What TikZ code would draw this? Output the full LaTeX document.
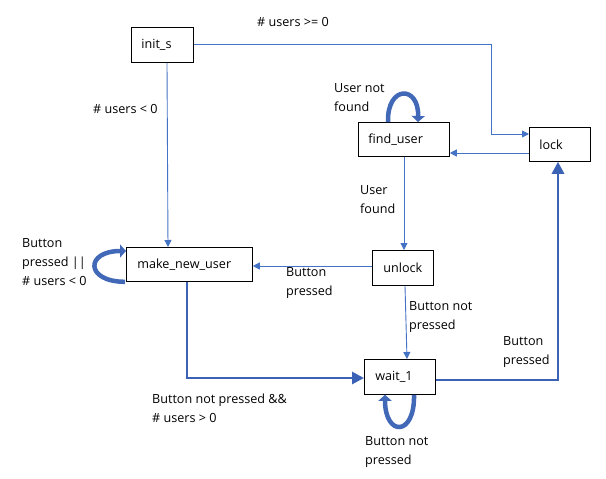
\documentclass[tikz,border=0pt]{standalone}
\usepackage{fontspec}
\setmainfont{Open Sans}
\usetikzlibrary{arrows.meta,calc}
\definecolor{thinblue}{HTML}{4472C4}
\definecolor{thickblue}{HTML}{3B62B4}
\definecolor{loopblue}{HTML}{4169B8}
\begin{document}
\begin{tikzpicture}[x=1pt,y=-1pt,
  every node/.style={font=\fontsize{12.6}{19}\selectfont, inner sep=0pt},
  box/.style={draw=black, line width=0.8pt, anchor=north west, align=left, inner xsep=10pt, inner ysep=0pt},
  lbl/.style={anchor=west, align=left, text=black},
  thinarrow/.style={draw=thinblue, line width=0.9pt, -{Triangle[length=7pt,width=7pt]}},
  thickarrow/.style={draw=thickblue, line width=2.8pt, -{Triangle[length=12pt,width=12pt]}},
  looparrow/.style={draw=loopblue, line width=4.5pt, -{Triangle[length=6pt,width=13pt]}}
]
\useasboundingbox (0,0) rectangle (606,479);
\fill[white] (0,0) rectangle (606,479);

% states
\node[box, text width=42pt, minimum height=35pt] (init) at (131,27) {init\_s};
\node[box, text width=71pt, minimum height=34pt] (find) at (358,122) {find\_user};
\node[box, text width=41pt, minimum height=34pt] (lock) at (529,127) {lock};
\node[box, text width=104pt, minimum height=34pt, inner xsep=11pt] (make) at (126,247) {make\_new\_user};
\node[box, text width=39pt, minimum height=35pt, inner xsep=11pt] (unlock) at (372,250) {unlock};
\node[box, text width=49pt, minimum height=35pt, inner xsep=11pt] (wait) at (364,359) {wait\_1};

% thin connectors
\coordinate (c1) at (491,44);
\coordinate (c2) at (491,134);
\draw[thinarrow] (init.east |- c1) -- (c1) -- (c2) -- (lock.west |- c2);
\draw[thinarrow] (init.south -| 167,0) -- (make.north -| 168,0);
\draw[thinarrow] (lock.west |- 0,153) -- (find.east |- 0,153);
\draw[thinarrow] (find.south -| 404,0) -- (unlock.north -| 404,0);
\draw[thinarrow] (unlock.west |- 0,266) -- (make.east |- 0,266);
\draw[thinarrow] (unlock.south -| 405,0) -- (wait.north -| 407,0);

% thick connectors
\coordinate (c3) at (187,378);
\draw[thickarrow] (make.south -| c3) -- (c3) -- (wait.west |- c3);
\coordinate (c4) at (558,380);
\draw[thickarrow] (wait.east |- c4) -- (c4) -- (lock.south -| c4);

% self loops
\draw[looparrow] ($(find.north west)+(30,0)$) .. controls ($(find.north west)+(29,-37)$) and ($(find.north west)+(61,-37)$) .. ($(find.north west)+(60,0)$);
\draw[looparrow] ($(make.south west)+(-1,0)$) .. controls ($(make.south west)+(-41,0)$) and ($(make.north west)+(-41,4)$) .. ($(make.north west)+(0,4)$);
\draw[looparrow] ($(wait.south west)+(50,0)$) .. controls ($(wait.south west)+(51,42)$) and ($(wait.south west)+(21,42)$) .. ($(wait.south west)+(21,0)$);

% labels
\node[lbl] (l1) at (257,22) {\# users >= 0};
\node[lbl] (l2) at (93,109) {\# users < 0};
\node[lbl] (l3) at (334,98) {User not\\found};
\node[lbl] (l4) at (360,200) {User\\found};
\node[lbl] (l5) at (286,283) {Button\\pressed};
\node[lbl] (l6) at (22,262) {Button\\pressed ||\\\# users < 0};
\node[lbl] (l7) at (409,317) {Button not\\pressed};
\node[lbl] (l8) at (503,352) {Button\\pressed};
\node[lbl] (l9) at (152,408) {Button not pressed \&\&\\\# users > 0};
\node[lbl] (l10) at (365,452) {Button not\\pressed};
\end{tikzpicture}
\end{document}
